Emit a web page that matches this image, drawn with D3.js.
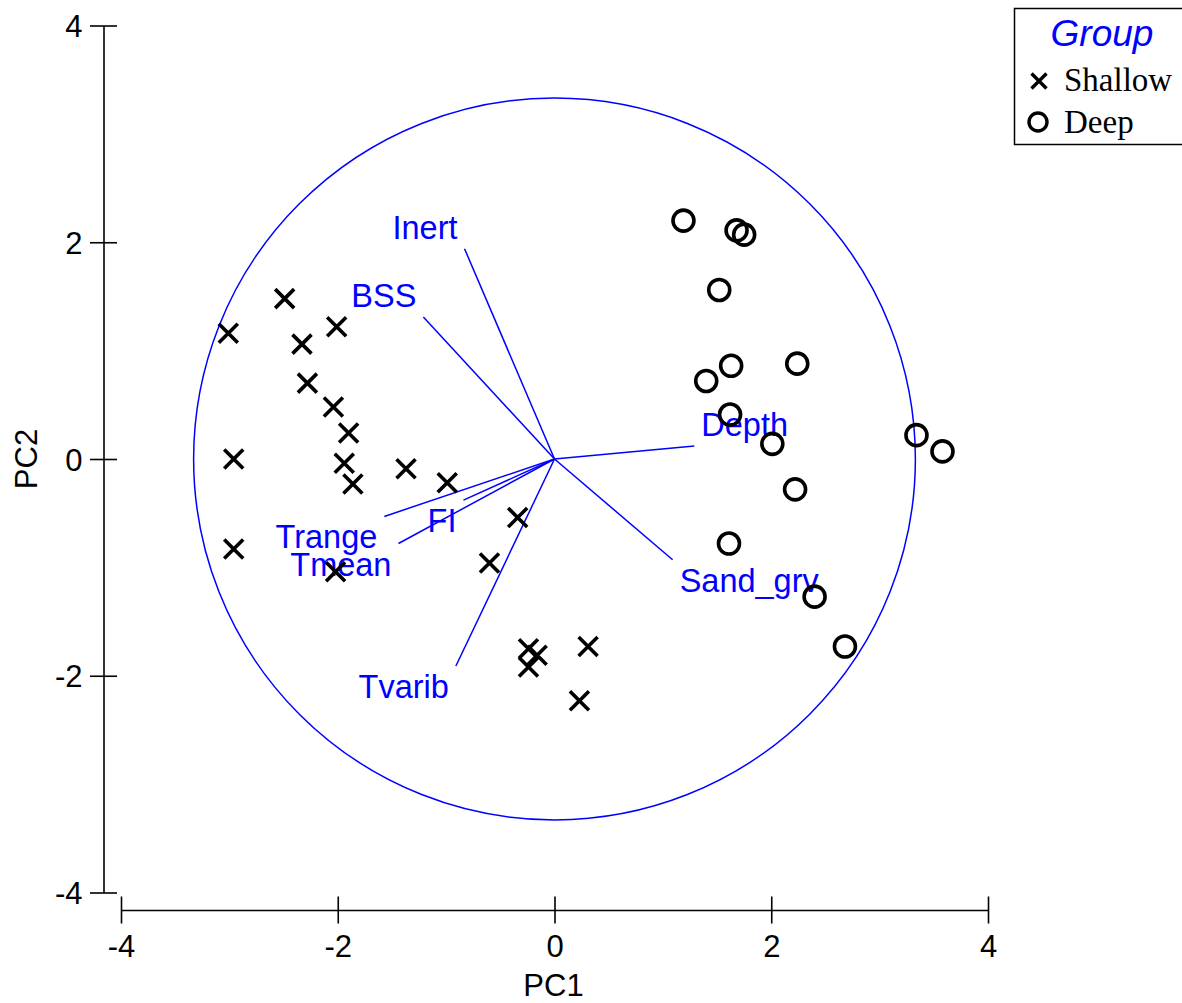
<!DOCTYPE html>
<html>
<head>
<meta charset="utf-8">
<script src="https://cdn.jsdelivr.net/npm/d3@7"></script>
<style>
  html, body { margin: 0; padding: 0; background: #fff; }
  svg { display: block; }
</style>
</head>
<body>
<svg id="chart" width="1182" height="1003"></svg>
<script>
// PCA scores for each sample (PC1, PC2)
const shallowPC1 = [-2.49, -3.01, -2.01, -2.33, -2.28, -2.04, -1.90, -2.96, -1.94, -1.86, -1.37, -0.99, -2.96, -2.02, -0.34, -0.60, -0.24, -0.16, -0.24, 0.31, 0.23];
const shallowPC2 = [1.48, 1.16, 1.22, 1.06, 0.70, 0.48, 0.24, 0.00, -0.04, -0.23, -0.09, -0.22, -0.83, -1.04, -0.54, -0.96, -1.75, -1.81, -1.92, -1.73, -2.23];

const deepPC1 = [1.19, 1.68, 1.75, 1.52, 1.63, 1.40, 2.24, 1.62, 2.01, 3.34, 3.58, 2.22, 1.61, 2.40, 2.68];
const deepPC2 = [2.20, 2.11, 2.07, 1.56, 0.86, 0.72, 0.88, 0.41, 0.14, 0.22, 0.07, -0.28, -0.78, -1.27, -1.73];

// Variable vectors (loadings scaled to the plot)
const varNames = ["Inert", "BSS", "Depth", "Sand_grv", "Tvarib", "Trange", "Tmean", "FI"];
const varPC1 = [-0.83, -1.21, 1.29, 1.09, -0.91, -1.57, -1.44, -0.84];
const varPC2 = [1.94, 1.31, 0.12, -0.93, -1.91, -0.53, -0.78, -0.38];

// Correlation circle radius
const circleRadius = 3.33;

const axisTicks = [-4, -2, 0, 2, 4];
const groupNames = ["Shallow", "Deep"];

const svg = d3.select("#chart");
const x = d3.scaleLinear().domain([-4, 4]).range([121, 988]);
const y = d3.scaleLinear().domain([-4, 4]).range([892.5, 25.5]);
const blue = "#0000ff";
const sans = "'Liberation Sans', Arial, sans-serif";
const serif = "'Liberation Serif', 'Times New Roman', serif";
const plainNumber = d => String(d);

// Axes
const yAxis = svg.append("g")
  .attr("transform", "translate(103.5,0)")
  .call(d3.axisLeft(y).tickValues(axisTicks).tickSizeOuter(0).tickFormat(plainNumber));
yAxis.select(".domain").attr("stroke", "#000").attr("stroke-width", 1.6);
yAxis.selectAll(".tick line").attr("x1", 13.5).attr("x2", -13.5).attr("stroke-width", 1.6);
yAxis.selectAll(".tick text")
  .attr("x", -21).attr("dy", "0.36em")
  .attr("font-family", sans).attr("font-size", 31).attr("fill", "#000");

const xAxis = svg.append("g")
  .attr("transform", "translate(0,910)")
  .call(d3.axisBottom(x).tickValues(axisTicks).tickSizeOuter(0).tickFormat(plainNumber));
xAxis.select(".domain").attr("stroke", "#000").attr("stroke-width", 1.6);
xAxis.selectAll(".tick line").attr("y1", -13.5).attr("y2", 13.5).attr("stroke-width", 1.6);
xAxis.selectAll(".tick text")
  .attr("y", 47).attr("dy", 0)
  .attr("font-family", sans).attr("font-size", 31).attr("fill", "#000");

svg.append("text")
  .attr("x", x(0) - 1).attr("y", 996)
  .attr("text-anchor", "middle")
  .attr("font-family", sans).attr("font-size", 31)
  .text("PC1");
svg.append("text")
  .attr("transform", `translate(37,${y(0)}) rotate(-90)`)
  .attr("text-anchor", "middle")
  .attr("font-family", sans).attr("font-size", 31)
  .text("PC2");

// Circle
svg.append("circle")
  .attr("cx", x(0)).attr("cy", y(0))
  .attr("r", x(circleRadius) - x(0))
  .attr("fill", "none").attr("stroke", blue).attr("stroke-width", 1.5);

// Vectors and their labels
const vars = varNames.map((name, i) => ({ name, px: varPC1[i], py: varPC2[i] }));
svg.append("g").selectAll("line").data(vars).join("line")
  .attr("x1", x(0)).attr("y1", y(0))
  .attr("x2", d => x(d.px)).attr("y2", d => y(d.py))
  .attr("stroke", blue).attr("stroke-width", 1.5);

svg.append("g").selectAll("text").data(vars).join("text")
  .attr("x", d => x(d.px) + (d.px >= 0 ? 7 : -7))
  .attr("y", d => y(d.py) + (d.py >= 0 ? -10 : 32))
  .attr("text-anchor", d => d.px >= 0 ? "start" : "end")
  .attr("font-family", sans).attr("font-size", 32.5)
  .attr("fill", blue)
  .text(d => d.name);

// Sample markers
function crossPath(s) {
  return `M${-s},${-s}L${s},${s}M${-s},${s}L${s},${-s}`;
}
const shallow = shallowPC1.map((v, i) => ({ px: v, py: shallowPC2[i] }));
const deep = deepPC1.map((v, i) => ({ px: v, py: deepPC2[i] }));

svg.append("g").selectAll("path").data(shallow).join("path")
  .attr("transform", d => `translate(${x(d.px)},${y(d.py)})`)
  .attr("d", crossPath(9.5))
  .attr("stroke", "#000").attr("stroke-width", 3.6).attr("fill", "none");

svg.append("g").selectAll("circle").data(deep).join("circle")
  .attr("cx", d => x(d.px)).attr("cy", d => y(d.py))
  .attr("r", 10.5)
  .attr("stroke", "#000").attr("stroke-width", 3.6).attr("fill", "none");

// Legend
const legend = svg.append("g");
legend.append("rect")
  .attr("x", 1014.5).attr("y", 8.5).attr("width", 180).attr("height", 136)
  .attr("fill", "#fff").attr("stroke", "#000").attr("stroke-width", 1.5);
legend.append("text")
  .attr("x", 1102).attr("y", 46)
  .attr("text-anchor", "middle")
  .attr("font-family", sans).attr("font-style", "italic").attr("font-size", 37)
  .attr("fill", blue)
  .text("Group");
legend.append("path")
  .attr("transform", "translate(1039,81)")
  .attr("d", crossPath(7.5))
  .attr("stroke", "#000").attr("stroke-width", 3.4).attr("fill", "none");
legend.append("circle")
  .attr("cx", 1038).attr("cy", 122).attr("r", 9)
  .attr("stroke", "#000").attr("stroke-width", 3.4).attr("fill", "none");
legend.selectAll("text.item").data(groupNames).join("text")
  .attr("class", "item")
  .attr("x", 1064).attr("y", (d, i) => 91 + i * 42)
  .attr("font-family", serif).attr("font-size", 33)
  .text(d => d);
</script>
</body>
</html>
